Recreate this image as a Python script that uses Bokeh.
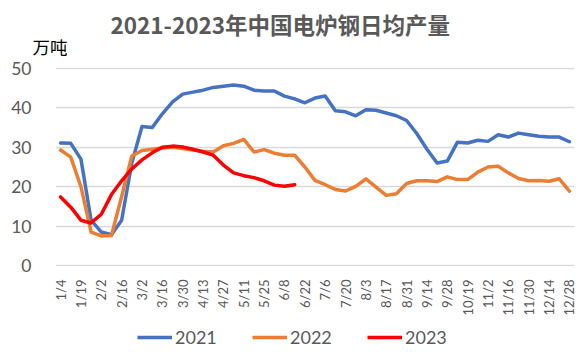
import math
from bokeh.plotting import figure
from bokeh.layouts import column
from bokeh.models import Range1d, FixedTicker, Title, Legend, LegendItem
from bokeh.embed import file_html
from bokeh.resources import INLINE

categories = ["1/4", "1/12", "1/19", "1/26", "2/2", "2/9", "2/16", "2/23", "3/2", "3/9",
              "3/16", "3/23", "3/30", "4/6", "4/13", "4/20", "4/27", "5/4", "5/11", "5/18",
              "5/25", "6/1", "6/8", "6/15", "6/22", "6/29", "7/6", "7/13", "7/20", "7/27",
              "8/3", "8/10", "8/17", "8/24", "8/31", "9/7", "9/14", "9/21", "9/28", "10/12",
              "10/19", "10/26", "11/2", "11/9", "11/16", "11/23", "11/30", "12/7", "12/14", "12/21",
              "12/28"]

y2021 = [31.1, 31.0, 27.0, 11.5, 8.5, 7.8, 11.5, 26.0, 35.3, 35.0,
         38.5, 41.5, 43.5, 44.0, 44.5, 45.2, 45.5, 45.8, 45.5, 44.5,
         44.3, 44.3, 43.0, 42.3, 41.3, 42.5, 43.0, 39.3, 39.0, 38.0,
         39.5, 39.4, 38.7, 38.0, 36.8, 33.5, 29.5, 26.0, 26.5, 31.3,
         31.1, 31.8, 31.5, 33.2, 32.6, 33.6, 33.2, 32.8, 32.6, 32.6,
         31.4]

y2022 = [29.3, 27.5, 20.0, 8.5, 7.5, 7.6, 17.5, 27.8, 29.2, 29.5,
         29.8, 30.0, 29.7, 29.3, 29.0, 28.8, 30.4, 31.0, 32.0, 28.8,
         29.4, 28.5, 28.0, 28.0, 25.0, 21.6, 20.5, 19.3, 18.9, 20.1,
         22.0, 19.9, 17.8, 18.2, 20.8, 21.5, 21.5, 21.3, 22.5, 21.8,
         21.8, 23.7, 25.0, 25.2, 23.5, 22.1, 21.5, 21.6, 21.4, 22.0,
         18.9]

y2023 = [17.4, 14.8, 11.5, 10.8, 13.0, 18.0, 21.5, 24.5, 26.8, 28.6,
         30.0, 30.3, 30.1, 29.5, 28.8, 28.0, 25.5, 23.5, 22.8, 22.3,
         21.5, 20.4, 20.1, 20.5]

series_names = ["2021", "2022", "2023"]
colors = ["#4472C4", "#ED7D31", "#FF0000"]
series = [y2021, y2022, y2023]
title_text = "2021-2023年中国电炉钢日均产量"
unit_text = "万吨"

FONT = "Lato"
CJK = "Noto Sans CJK SC"
x_all = list(range(len(categories)))

# ---- main chart
p = figure(width=583, height=319, output_backend="svg", toolbar_location=None,
           x_range=Range1d(-0.5, 50.5), y_range=Range1d(-0.25, 50.25),
           min_border_left=55, min_border_right=9, min_border_top=67, min_border_bottom=53)
p.outline_line_color = None
p.background_fill_color = "white"
p.border_fill_color = "white"

# main title (outer panel)
p.title.text = title_text
p.title.align = "left"
p.title.offset = 55
p.title.text_font = CJK
p.title.text_font_size = "22.5px"
p.title.text_font_style = "bold"
p.title.text_color = "#595959"
try:
    p.title.standoff = -33
except Exception:
    p.title.standoff = 0

# unit label (inner panel, next to the frame)
unit = Title(text=unit_text, align="left", offset=-23, text_font=CJK,
             text_font_size="17.5px", text_font_style="normal", text_color="#000000",
             standoff=17)
p.add_layout(unit, "above")

for ys, c in zip(series, colors):
    p.line(x_all[:len(ys)], ys, line_color=c, line_width=3.5,
           line_join="round", line_cap="round")

p.xaxis.ticker = FixedTicker(ticks=list(range(0, len(categories), 2)))
p.xaxis.major_label_overrides = {i: categories[i] for i in range(0, len(categories), 2)}
p.xaxis.major_label_orientation = math.pi / 2
p.xaxis.axis_line_color = None
p.xaxis.major_tick_line_color = None
p.xaxis.minor_tick_line_color = None
p.xaxis.major_label_standoff = 7
p.xaxis.major_label_text_font = FONT
p.xaxis.major_label_text_font_size = "13px"
p.xaxis.major_label_text_color = "#595959"

p.yaxis.ticker = FixedTicker(ticks=[0, 10, 20, 30, 40, 50])
p.yaxis.axis_line_color = None
p.yaxis.major_tick_line_color = None
p.yaxis.minor_tick_line_color = None
p.yaxis.major_label_standoff = 18
p.yaxis.major_label_text_font = FONT
p.yaxis.major_label_text_font_size = "17.5px"
p.yaxis.major_label_text_color = "#595959"

p.xgrid.grid_line_color = None
p.ygrid.grid_line_color = "#D9D9D9"
p.ygrid.grid_line_width = 1.5

# ---- legend strip (its lines lie outside the strip's y range; only the legend shows)
lg = figure(width=583, height=33, output_backend="svg", toolbar_location=None,
            x_axis_type=None, y_axis_type=None,
            x_range=Range1d(-0.5, 50.5), y_range=Range1d(60, 61),
            min_border_left=55, min_border_right=9, min_border_top=0, min_border_bottom=0)
lg.outline_line_color = None
lg.grid.grid_line_color = None
lg.border_fill_color = "white"
lg.background_fill_color = "white"
leg_renderers = [lg.line(x_all[:len(ys)], ys, line_color=c, line_width=3.5)
                 for ys, c in zip(series, colors)]
legend = Legend(items=[LegendItem(label=n, renderers=[r]) for n, r in zip(series_names, leg_renderers)],
                orientation="horizontal", location=(82, 4),
                glyph_width=35, glyph_height=22, label_standoff=3, spacing=0, label_width=77,
                padding=0, margin=0, border_line_color=None, background_fill_alpha=0,
                label_text_font=FONT, label_text_font_size="18px", label_text_color="#595959")
lg.add_layout(legend, "center")

layout = column(p, lg, spacing=0)
open("out.html", "w").write(file_html(layout, INLINE))
